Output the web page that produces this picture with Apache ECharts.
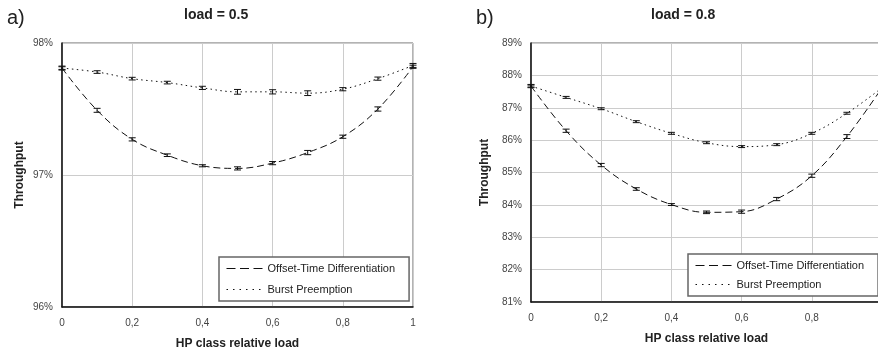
<!DOCTYPE html>
<html>
<head>
<meta charset="utf-8">
<script src="https://cdn.jsdelivr.net/npm/echarts@6/dist/echarts.min.js"></script>
<style>
  html, body { margin: 0; padding: 0; background: #fff; }
  #chart { width: 878px; height: 354px; }
</style>
</head>
<body>
<div id="chart"></div>
<script>
const FONT = "Liberation Sans";

// HP class relative load (x values)
const hpLoad = [0, 0.1, 0.2, 0.3, 0.4, 0.5, 0.6, 0.7, 0.8, 0.9, 1];

// panel a) load = 0.5  (throughput in %)
const offsetA = [97.81, 97.49, 97.27, 97.15, 97.07, 97.05, 97.09, 97.17, 97.29, 97.50, 97.82];
const offsetErrA = [0.015, 0.015, 0.012, 0.01, 0.008, 0.012, 0.012, 0.016, 0.012, 0.016, 0.012];
const burstA = [97.81, 97.78, 97.73, 97.70, 97.66, 97.63, 97.63, 97.62, 97.65, 97.73, 97.83];
const burstErrA = [0.01, 0.01, 0.01, 0.01, 0.012, 0.018, 0.016, 0.018, 0.012, 0.012, 0.015];

// panel b) load = 0.8
const offsetB = [87.67, 86.29, 85.23, 84.49, 84.01, 83.77, 83.79, 84.18, 84.90, 86.11, 87.62];
const offsetErrB = [0.05, 0.05, 0.05, 0.04, 0.03, 0.04, 0.05, 0.05, 0.05, 0.06, 0.05];
const burstB = [87.67, 87.32, 86.97, 86.57, 86.21, 85.92, 85.80, 85.86, 86.21, 86.83, 87.62];
const burstErrB = [0.03, 0.03, 0.03, 0.03, 0.03, 0.03, 0.03, 0.03, 0.03, 0.03, 0.03];

const yTicksA = { min: 96, max: 98, interval: 1 };
const yTicksB = { min: 81, max: 89, interval: 1 };

const seriesNames = ["Offset-Time Differentiation", "Burst Preemption"];

const DASHED = [7, 4];
const DOTTED = [1.5, 3.5];

const chart = echarts.init(document.getElementById("chart"));

const pairs = (ys) => hpLoad.map((x, i) => [x, ys[i]]);
const errData = (ys, es) => hpLoad.map((x, i) => [x, ys[i], es[i]]);

function errorBars(idx, ys, es) {
  return {
    type: "custom",
    xAxisIndex: idx,
    yAxisIndex: idx,
    silent: true,
    z: 5,
    data: errData(ys, es),
    encode: { x: 0, y: 1 },
    renderItem: function (params, api) {
      const x = api.value(0), y = api.value(1), e = api.value(2);
      const lo = api.coord([x, y - e]);
      const hi = api.coord([x, y + e]);
      const w = 3.5;
      const style = { stroke: "#111", lineWidth: 1, fill: null };
      return {
        type: "group",
        children: [
          { type: "line", shape: { x1: lo[0], y1: lo[1], x2: hi[0], y2: hi[1] }, style },
          { type: "line", shape: { x1: lo[0] - w, y1: lo[1], x2: lo[0] + w, y2: lo[1] }, style },
          { type: "line", shape: { x1: hi[0] - w, y1: hi[1], x2: hi[0] + w, y2: hi[1] }, style }
        ]
      };
    }
  };
}

function lineSeries(idx, name, ys, dash) {
  return {
    type: "line",
    name: name,
    xAxisIndex: idx,
    yAxisIndex: idx,
    data: pairs(ys),
    smooth: 0.4,
    symbol: "none",
    lineStyle: { color: "#111", width: 1, type: dash },
    itemStyle: { color: "#111" },
    z: 4
  };
}

const xAxisBase = (idx) => ({
  type: "value",
  gridIndex: idx,
  min: 0,
  max: 1,
  interval: 0.2,
  name: "HP class relative load",
  nameLocation: "middle",
  nameGap: 31,
  nameTextStyle: { fontFamily: FONT, fontWeight: "bold", fontSize: 12, color: "#222" },
  axisLine: { show: true, onZero: false, lineStyle: { color: "#111", width: 1.5 } },
  axisTick: { show: false },
  axisLabel: {
    fontFamily: FONT, fontSize: 10, color: "#444", margin: 11,
    formatter: (v) => String(+v.toFixed(1)).replace(".", ",")
  },
  splitLine: { show: true, lineStyle: { color: "#cccccc", width: 1 } }
});

const yAxisBase = (idx, ticks, gap) => ({
  type: "value",
  gridIndex: idx,
  min: ticks.min,
  max: ticks.max,
  interval: ticks.interval,
  name: "Throughput",
  nameLocation: "middle",
  nameGap: gap,
  nameTextStyle: { fontFamily: FONT, fontWeight: "bold", fontSize: 12, color: "#222" },
  axisLine: { show: true, lineStyle: { color: "#111", width: 1.5 } },
  axisTick: { show: false },
  axisLabel: { fontFamily: FONT, fontSize: 10, color: "#444", margin: 9, formatter: "{value}%" },
  splitLine: { show: true, lineStyle: { color: "#cccccc", width: 1 } }
});

const legendBase = (left, top, gap) => ({
  orient: "vertical",
  left: left,
  top: top,
  data: [
    { name: seriesNames[0], lineStyle: { type: [9, 4.5], width: 1, color: "#111" } },
    { name: seriesNames[1], lineStyle: { type: [1.5, 5], width: 1, color: "#111" } }
  ],
  backgroundColor: "#fff",
  borderColor: "#666",
  borderWidth: 1.5,
  borderRadius: 0,
  padding: [6, 14, 6, 7],
  itemGap: gap,
  itemWidth: 39,
  itemHeight: 12,
  itemStyle: { opacity: 0, borderWidth: 0 },
  textStyle: { fontFamily: FONT, fontSize: 11, color: "#222", padding: [0, 0, 0, -3] },
  selectedMode: false
});

const option = {
  animation: false,
  backgroundColor: "#fff",
  grid: [
    { left: 62, right: 465, top: 43, bottom: 47, show: true, borderColor: "#666", borderWidth: 1,
      outerBoundsMode: "none", containLabel: false },
    { left: 531, right: -4, top: 43, bottom: 52, show: true, borderColor: "#666", borderWidth: 1,
      outerBoundsMode: "none", containLabel: false }
  ],
  xAxis: [xAxisBase(0), xAxisBase(1)],
  yAxis: [yAxisBase(0, yTicksA, 36), yAxisBase(1, yTicksB, 40)],
  legend: [
    legendBase(219, 257, 10),
    legendBase(688, 254, 8)
  ],
  graphic: [
    { type: "text", left: 7, top: 8, style: { text: "a)", font: "20px " + FONT, fill: "#222" } },
    { type: "text", left: 476, top: 8, style: { text: "b)", font: "20px " + FONT, fill: "#222" } },
    { type: "text", left: 184, top: 8, style: { text: "load = 0.5", font: "bold 14px " + FONT, fill: "#222" } },
    { type: "text", left: 651, top: 8, style: { text: "load = 0.8", font: "bold 14px " + FONT, fill: "#222" } }
  ],
  series: [
    lineSeries(0, seriesNames[0], offsetA, DASHED),
    lineSeries(0, seriesNames[1], burstA, DOTTED),
    errorBars(0, offsetA, offsetErrA),
    errorBars(0, burstA, burstErrA),
    lineSeries(1, seriesNames[0], offsetB, DASHED),
    lineSeries(1, seriesNames[1], burstB, DOTTED),
    errorBars(1, offsetB, offsetErrB),
    errorBars(1, burstB, burstErrB)
  ]
};

chart.setOption(option);
</script>
</body>
</html>
